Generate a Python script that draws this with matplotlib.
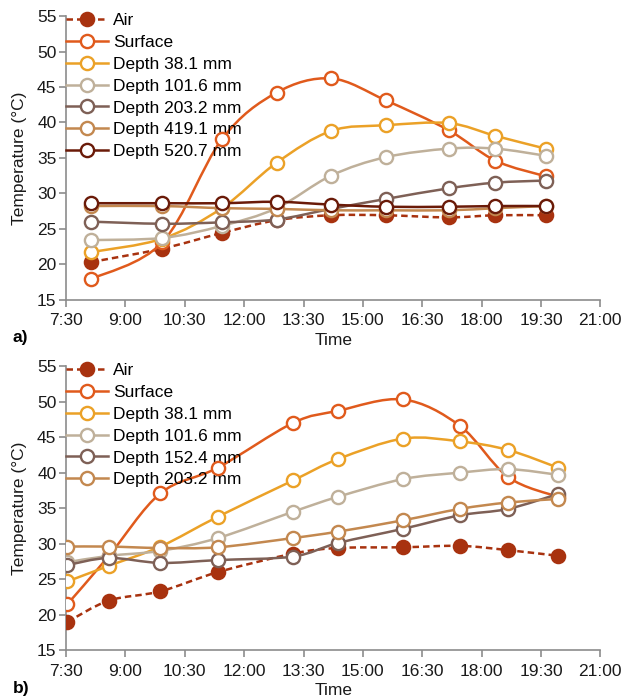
"""Pavement temperature profiles over a day: two panels, smoothed Excel-style lines."""

import numpy as np
import matplotlib

matplotlib.use("Agg")
import matplotlib.pyplot as plt
from matplotlib.lines import Line2D
from matplotlib.patches import PathPatch
from matplotlib.path import Path

plt.rcParams["font.family"] = ["Liberation Sans", "DejaVu Sans"]
plt.rcParams["font.size"] = 12.5

# ---- data ----
TICK_LABELS = ["7:30", "9:00", "10:30", "12:00", "13:30", "15:00", "16:30", "18:00", "19:30", "21:00"]

# panel a)
times_a = ["8:08", "9:56", "11:26", "12:49", "14:12", "15:35", "17:10", "18:21", "19:37"]
air_a = [20.3, 22.2, 24.4, 26.2, 26.9, 26.9, 26.6, 26.9, 26.9]
surface_a = [17.9, 23.1, 37.6, 44.2, 46.2, 43.1, 38.9, 34.6, 32.4]
d38_a = [21.7, 23.6, 27.9, 34.3, 38.8, 39.6, 39.9, 38.1, 36.3]
d101_a = [23.4, 23.7, 25.4, 27.9, 32.5, 35.1, 36.3, 36.3, 35.3]
d203_a = [26.0, 25.7, 25.9, 26.3, 27.8, 29.2, 30.7, 31.5, 31.8]
d419_a = [28.2, 28.2, 27.9, 27.8, 27.6, 27.6, 27.6, 27.9, 28.2]
d520_a = [28.6, 28.6, 28.6, 28.8, 28.4, 28.1, 28.1, 28.2, 28.2]

# panel b)
times_b = ["7:32", "8:35", "9:53", "11:20", "13:14", "14:22", "16:01", "17:27", "18:40", "19:56"]
air_b = [19.0, 22.0, 23.3, 26.0, 28.6, 29.4, 29.5, 29.7, 29.1, 28.3]
surface_b = [21.5, 28.3, 37.1, 40.7, 47.0, 48.7, 50.3, 46.6, 39.4, 36.6]
d38_b = [24.7, 26.9, 29.6, 33.8, 38.9, 41.9, 44.8, 44.4, 43.2, 40.7]
d101_b = [27.4, 28.3, 29.0, 30.8, 34.5, 36.6, 39.1, 40.0, 40.5, 39.7]
d152_b = [27.0, 28.0, 27.3, 27.7, 28.2, 30.1, 32.1, 34.0, 34.9, 37.0]
d203_b = [29.6, 29.6, 29.4, 29.5, 30.8, 31.7, 33.3, 34.9, 35.8, 36.3]

# ---- styles ----
C_AIR = "#A8320F"
C_SURF = "#E05A1C"
C_D38 = "#EBA127"
C_D101 = "#BFB09A"
C_GRAYBROWN = "#7E6056"
C_TAN = "#C3884F"
C_MAROON = "#6A1A08"
AXIS_GRAY = "#8C8C8C"


def hours(t):
    h, m = t.split(":")
    return int(h) + int(m) / 60.0


def smooth_path(x, y):
    """Catmull-Rom style cubic Bezier through the points, like Excel's smoothed line."""
    pts = np.column_stack([x, y])
    verts = [pts[0]]
    codes = [Path.MOVETO]
    n = len(pts)
    for i in range(n - 1):
        p0 = pts[i - 1] if i > 0 else pts[i]
        p1, p2 = pts[i], pts[i + 1]
        p3 = pts[i + 2] if i + 2 < n else pts[i + 1]
        verts += [p1 + (p2 - p0) / 6.0, p2 - (p3 - p1) / 6.0, p2]
        codes += [Path.CURVE4] * 3
    return Path(verts, codes)


def draw_panel(ax, times, series, tag):
    x = [hours(t) for t in times]
    handles = []
    for k, (label, vals, color, filled) in enumerate(series):
        ls = (0, (2.6, 1.6)) if filled else "-"
        z = 3 + 2 * k
        patch = PathPatch(smooth_path(x, vals), fill=False, edgecolor=color,
                          lw=1.8, linestyle=ls, zorder=z, capstyle="butt")
        ax.add_patch(patch)
        ax.plot(x, vals, ls="none", marker="o", ms=9.5,
                mfc=color if filled else "white", mec=color, mew=1.7, zorder=z + 1)
        handles.append(Line2D([], [], color=color, lw=1.8, linestyle=ls, marker="o",
                              ms=9.5, mfc=color if filled else "white", mec=color,
                              mew=1.7, label=label))

    ax.set_xlim(7.5, 21.0)
    ax.set_ylim(15, 55)
    ax.set_xticks(np.arange(7.5, 21.01, 1.5))
    ax.set_xticklabels(TICK_LABELS)
    ax.set_yticks(np.arange(15, 56, 5))
    for side in ("top", "right"):
        ax.spines[side].set_visible(False)
    for side in ("left", "bottom"):
        ax.spines[side].set_color(AXIS_GRAY)
        ax.spines[side].set_linewidth(1.2)
    ax.tick_params(direction="out", length=5, width=1.2, color=AXIS_GRAY,
                   labelcolor="#1a1a1a", pad=2)
    ax.tick_params(axis="x", pad=5)
    ax.set_xlabel("Time", labelpad=3, color="#1a1a1a")
    ax.set_ylabel("Temperature (°C)", labelpad=7, color="#1a1a1a")
    ax.legend(handles=handles, loc="upper left", bbox_to_anchor=(0.0, 1.012),
              frameon=False, handlelength=2.4, handletextpad=0.3,
              labelspacing=0.39, borderaxespad=0.0, borderpad=0.0)
    ax.text(-0.1, -0.135, tag, transform=ax.transAxes, fontweight="bold",
            ha="left", va="center")


fig = plt.figure(figsize=(6.24, 7.0), dpi=100)
ax_a = fig.add_axes([0.106, 0.572, 0.856, 0.405])
ax_b = fig.add_axes([0.106, 0.071, 0.856, 0.406])

draw_panel(ax_a, times_a, [
    ("Air", air_a, C_AIR, True),
    ("Surface", surface_a, C_SURF, False),
    ("Depth 38.1 mm", d38_a, C_D38, False),
    ("Depth 101.6 mm", d101_a, C_D101, False),
    ("Depth 203.2 mm", d203_a, C_GRAYBROWN, False),
    ("Depth 419.1 mm", d419_a, C_TAN, False),
    ("Depth 520.7 mm", d520_a, C_MAROON, False),
], "a)")

draw_panel(ax_b, times_b, [
    ("Air", air_b, C_AIR, True),
    ("Surface", surface_b, C_SURF, False),
    ("Depth 38.1 mm", d38_b, C_D38, False),
    ("Depth 101.6 mm", d101_b, C_D101, False),
    ("Depth 152.4 mm", d152_b, C_GRAYBROWN, False),
    ("Depth 203.2 mm", d203_b, C_TAN, False),
], "b)")

fig.savefig("out.png", dpi=100)
